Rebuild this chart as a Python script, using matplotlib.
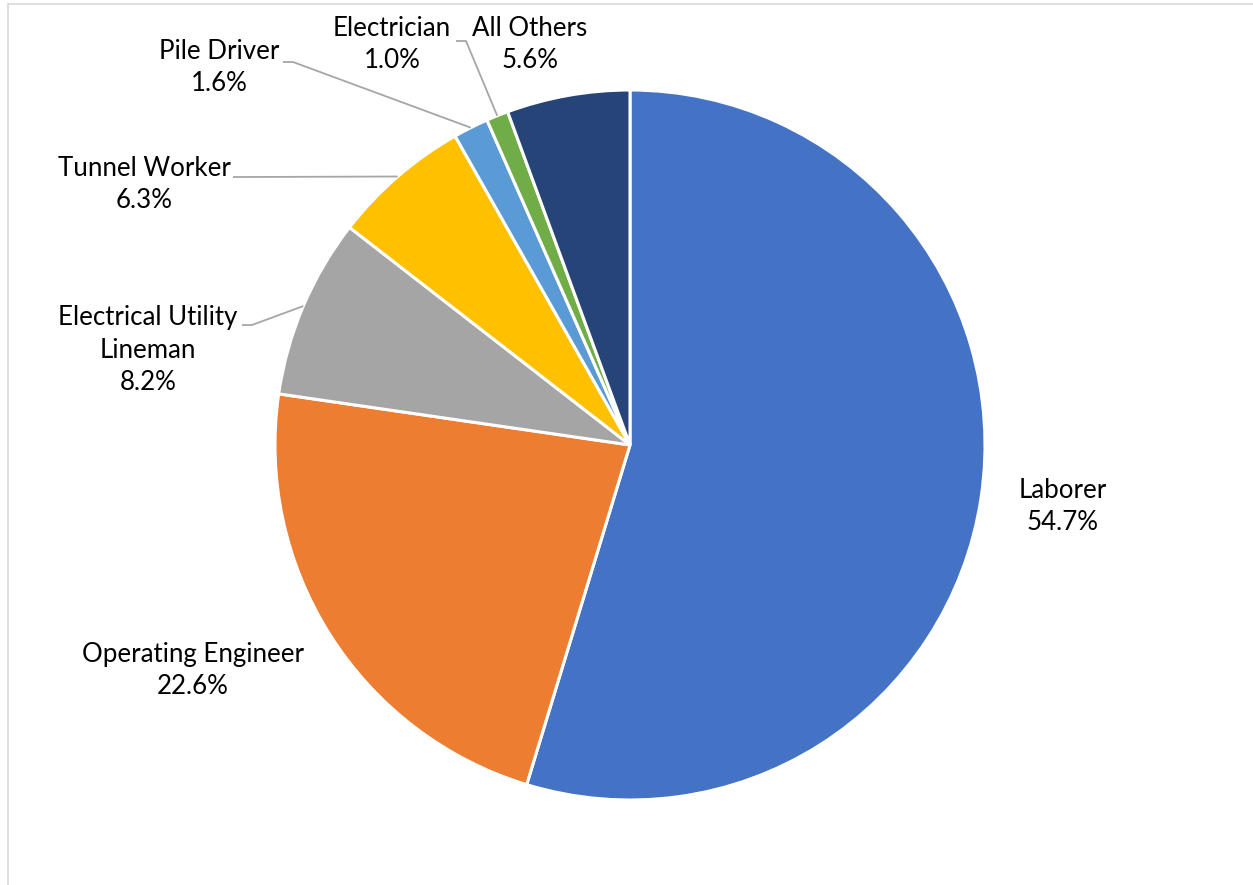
import numpy as np
import matplotlib.pyplot as plt
from matplotlib.patches import Rectangle

labels = ["Laborer", "Operating Engineer", "Electrical Utility\nLineman",
          "Tunnel Worker", "Pile Driver", "Electrician", "All Others"]
shares = [54.7, 22.6, 8.2, 6.3, 1.6, 1.0, 5.6]
colors = ["#4472C4", "#ED7D31", "#A5A5A5", "#FFC000", "#5B9BD5", "#70AD47", "#264478"]

plt.rcParams['font.family'] = ['Lato', 'DejaVu Sans']

W, H = 1253, 885
fig = plt.figure(figsize=(W / 100, H / 100), dpi=100)
ax = fig.add_axes([0, 0, 1, 1])

cx, cy, r = 630, H - 445, 355
wedges, _ = ax.pie(shares, colors=colors, startangle=90, counterclock=False,
                   center=(cx, cy), radius=r, frame=True,
                   wedgeprops=dict(edgecolor='white', linewidth=2.2))
ax.set_xlim(0, W)
ax.set_ylim(0, H)
ax.set_aspect('equal')
ax.axis('off')

# label text centre x, y of first line (from top), leader start
label_pos = {
    "Laborer": (1063, 490, None),
    "Operating Engineer": (193, 654, None),
    "Electrical Utility\nLineman": (148, 317, (242, 325)),
    "Tunnel Worker": (144, 168, (233, 177)),
    "Pile Driver": (219, 51, (283, 62)),
    "Electrician": (392, 28, (456, 41)),
    "All Others": (530, 28, None),
}

for w, lab, s in zip(wedges, labels, shares):
    x, y0, lead = label_pos[lab]
    txt = lab + "\n" + f"{s:.1f}%"
    nlines = txt.count("\n") + 1
    ycen = y0 + (nlines - 1) * 33 / 2
    ax.text(x, H - ycen, txt, ha='center', va='center', fontsize=18.6,
            color='#000000', linespacing=1.37)
    if lead is not None:
        ang = np.deg2rad((w.theta1 + w.theta2) / 2)
        ex, ey = cx + r * np.cos(ang), cy + r * np.sin(ang)
        lx, ly = lead[0], H - lead[1]
        ax.plot([lx, lx + 10, ex], [ly, ly, ey], color='#A6A6A6', lw=1.3,
                solid_capstyle='butt')

fig.patches.append(Rectangle((8 / W, -0.1), 1.1, (H - 4) / H + 0.1,
                             transform=fig.transFigure, fill=False,
                             edgecolor='#D9D9D9', lw=1.2))

fig.savefig("out.png", dpi=100)
